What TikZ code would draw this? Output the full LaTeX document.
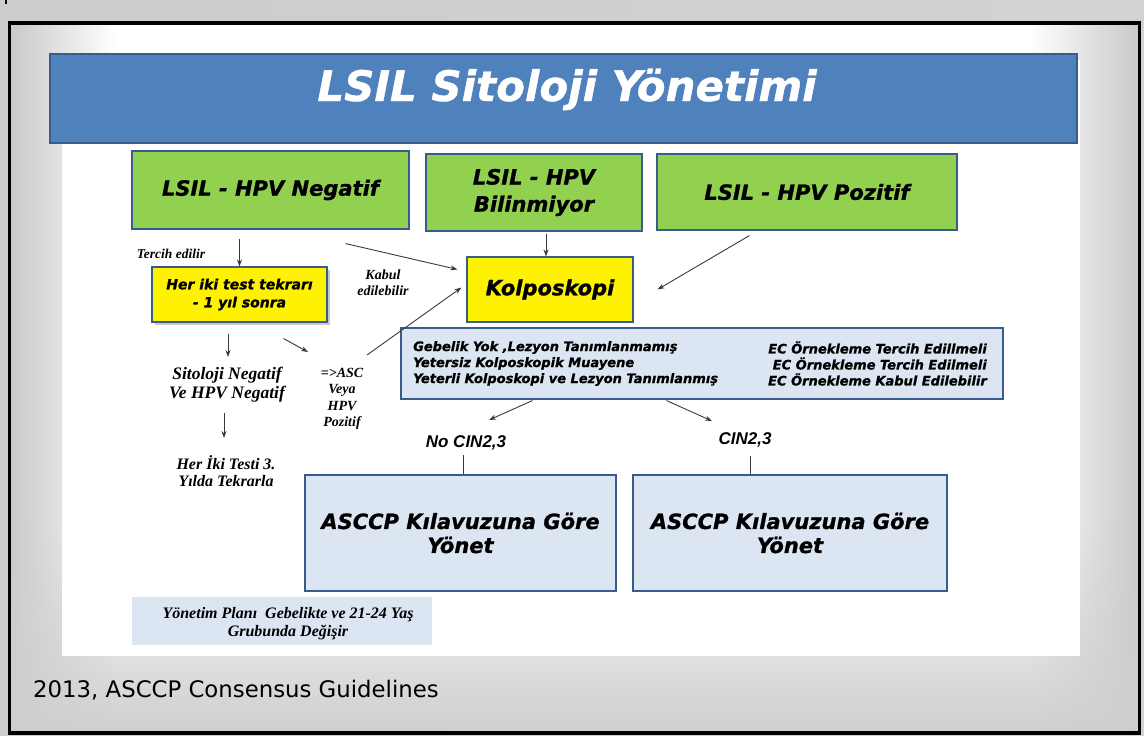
\documentclass[tikz,border=0pt]{standalone}
\usepackage{fontspec}
\setmainfont{Liberation Serif}
\newfontfamily\verd{DejaVu Sans}[BoldItalicFeatures={FakeBold=1}]
\newfontfamily\arl{Liberation Sans}
\usetikzlibrary{arrows.meta,calc,shadows,fadings}

\definecolor{titleblue}{HTML}{4F81BD}
\definecolor{edgeblue}{HTML}{385D8A}
\definecolor{leafgreen}{HTML}{92D050}
\definecolor{paleblue}{HTML}{DCE6F2}
\definecolor{linegray}{HTML}{3A3A3A}

\begin{document}
\begin{tikzpicture}[x=1pt,y=-1pt,
  box/.style={draw=edgeblue, line width=1.1pt, inner sep=0pt, align=center},
  greenbox/.style={box, fill=leafgreen, font=\verd\bfseries\itshape\fontsize{21}{27}\selectfont},
  yellowbox/.style={box, fill=yellow},
  bluebox/.style={box, fill=paleblue},
  serifnote/.style={inner sep=0pt, align=center, text=black},
  arr/.style={draw=linegray, line width=0.9pt, -{Stealth[length=7pt,width=5pt]}},
  link/.style={draw=linegray, line width=0.9pt}]

\useasboundingbox (0,0) rectangle (1144,736);

% outer page
\shade[left color=gray!40, middle color=white, right color=gray!35] (0,0) rectangle (1144,736);

% framed slide: white with grey edges fading inwards
\fill[white] (9.5,23) rectangle (1139.5,733);
\fill[gray!42, path fading=east] (9.5,23) rectangle (115,733);
\fill[gray!42, path fading=west] (1030,23) rectangle (1139.5,733);
\fill[gray!38, path fading=north] (9.5,520) rectangle (1139.5,733);
\fill[white] (62,60) rectangle (1080,656);
\draw[line width=3.5pt] (9.5,23) rectangle (1139.5,733);
\fill[black] (5,0) rectangle (7,4);

% title bar
\node[box, fill=titleblue, minimum width=1027pt, minimum height=89pt] (title) at (563.5,98.5) {};
\node[anchor=base, inner sep=0pt, text=white,
      font=\verd\bfseries\itshape\fontsize{42}{50}\selectfont] (titletext) at (567,101) {LSIL Sitoloji Yönetimi};

% HPV result boxes
\node[greenbox, minimum width=277pt, minimum height=78pt] (neg) at (270.5,190) {LSIL - HPV Negatif};
\node[greenbox, minimum width=216pt, minimum height=77pt] (unk) at (534,192.5) {LSIL - HPV\\Bilinmiyor};
\node[greenbox, minimum width=300pt, minimum height=76pt] (pos) at (807,192) {LSIL - HPV Pozitif};

% colposcopy and repeat testing
\node[yellowbox, minimum width=166pt, minimum height=65pt,
      font=\verd\bfseries\itshape\fontsize{21}{25}\selectfont] (kolpo) at (550,289.5) {Kolposkopi};
\node[yellowbox, minimum width=175pt, minimum height=55pt,
      drop shadow={shadow xshift=2.5pt, shadow yshift=-2.5pt, fill=gray!70, opacity=0.6},
      font=\verd\bfseries\itshape\fontsize{14}{18}\selectfont] (yel) at (239.5,294.5) {Her iki test tekrarı\\- 1 yıl sonra};

% colposcopy findings
\node[bluebox, minimum width=602pt, minimum height=71pt] (info) at (702,363.5) {};
\node[anchor=west, inner sep=0pt, align=left,
      font=\verd\bfseries\itshape\fontsize{13}{16}\selectfont] (infoL) at (413,363.5)
  {Gebelik Yok ,Lezyon Tanımlanmamış\\Yetersiz Kolposkopik Muayene\\Yeterli Kolposkopi ve Lezyon Tanımlanmış};
\node[anchor=east, inner sep=0pt, align=right,
      font=\verd\bfseries\itshape\fontsize{13}{16}\selectfont] (infoR) at (987,363.5)
  {EC Örnekleme Tercih Edillmeli\\EC Örnekleme Tercih Edilmeli\\EC Örnekleme Kabul Edilebilir};

% management boxes
\node[bluebox, minimum width=311pt, minimum height=116pt,
      font=\verd\bfseries\itshape\fontsize{21}{24}\selectfont] (asc1) at (460.5,533) {ASCCP Kılavuzuna Göre\\Yönet};
\node[bluebox, minimum width=314pt, minimum height=116pt,
      font=\verd\bfseries\itshape\fontsize{21}{24}\selectfont] (asc2) at (790,533) {ASCCP Kılavuzuna Göre\\Yönet};

% side notes
\node[serifnote, font=\bfseries\itshape\fontsize{13.5}{16}\selectfont] (tercih) at (171,254) {Tercih edilir};
\node[serifnote, font=\bfseries\itshape\fontsize{14}{16}\selectfont] (kabul) at (383,283) {Kabul\\edilebilir};
\node[serifnote, font=\bfseries\itshape\fontsize{17.5}{19}\selectfont] (sitneg) at (227,385) {Sitoloji Negatif\\Ve HPV Negatif};
\node[serifnote, font=\bfseries\itshape\fontsize{14}{16.5}\selectfont] (ascpos) at (342,399) {=>ASC\\Veya\\HPV\\Pozitif};
\node[serifnote, font=\bfseries\itshape\fontsize{16}{17}\selectfont] (heriki) at (226,471) {Her İki Testi 3.\\Yılda Tekrarla};
\node[serifnote, font=\arl\bfseries\itshape\fontsize{17}{20}\selectfont] (nocin) at (466,443) {No CIN2,3};
\node[serifnote, font=\arl\bfseries\itshape\fontsize{17}{20}\selectfont] (cin) at (745,440) {CIN2,3};

\node[fill=paleblue, minimum width=300pt, minimum height=48pt, inner sep=0pt] (plan) at (282,621) {};
\node[serifnote, font=\bfseries\itshape\fontsize{16}{18}\selectfont] (plantext) at ($(plan.center)+(6,3)$)
  {Yönetim Planı\ \ Gebelikte ve 21-24 Yaş\\Grubunda Değişir};

\node[anchor=base west, inner sep=0pt, font=\verd\fontsize{22.8}{26}\selectfont] (source) at (33,697)
  {2013, ASCCP Consensus Guidelines};

% connectors
\draw[arr] ($(neg.south -| yel.north)+(0,9)$) -- (yel.north);
\draw[arr] ($(neg.south east)+(-64,14)$) -- ($(kolpo.north west)+(-9,13)$);
\draw[arr] ($(unk.south)+(12,2)$) -- ($(kolpo.north)+(-4,0)$);
\draw[arr] ($(pos.south west)+(93,5)$) -- ($(kolpo.east)+(24,0)$);
\draw[arr] ($(yel.south)+(-11.5,11)$) -- ($(sitneg.center)+(1,-28)$);
\draw[arr] ($(yel.south east)+(-44,16)$) -- ($(ascpos.center)+(-34,-47)$);
\draw[arr] ($(ascpos.center)+(25,-44)$) -- ($(kolpo.south west)+(-5,-35)$);
\draw[arr] ($(sitneg.center)+(-3,28)$) -- ($(heriki.center)+(-2,-33)$);
\draw[arr] ($(info.south west)+(132,1)$) -- ($(nocin.center)+(23,-23)$);
\draw[arr] ($(info.south west)+(266,1)$) -- ($(cin.center)+(-33,-19)$);
\draw[link] ($(nocin.center)+(-3,12)$) -- ($(asc1.north)+(2.5,0)$);
\draw[link] ($(cin.center)+(5,16)$) -- ($(asc2.north)+(-40,0)$);

\end{tikzpicture}
\end{document}
